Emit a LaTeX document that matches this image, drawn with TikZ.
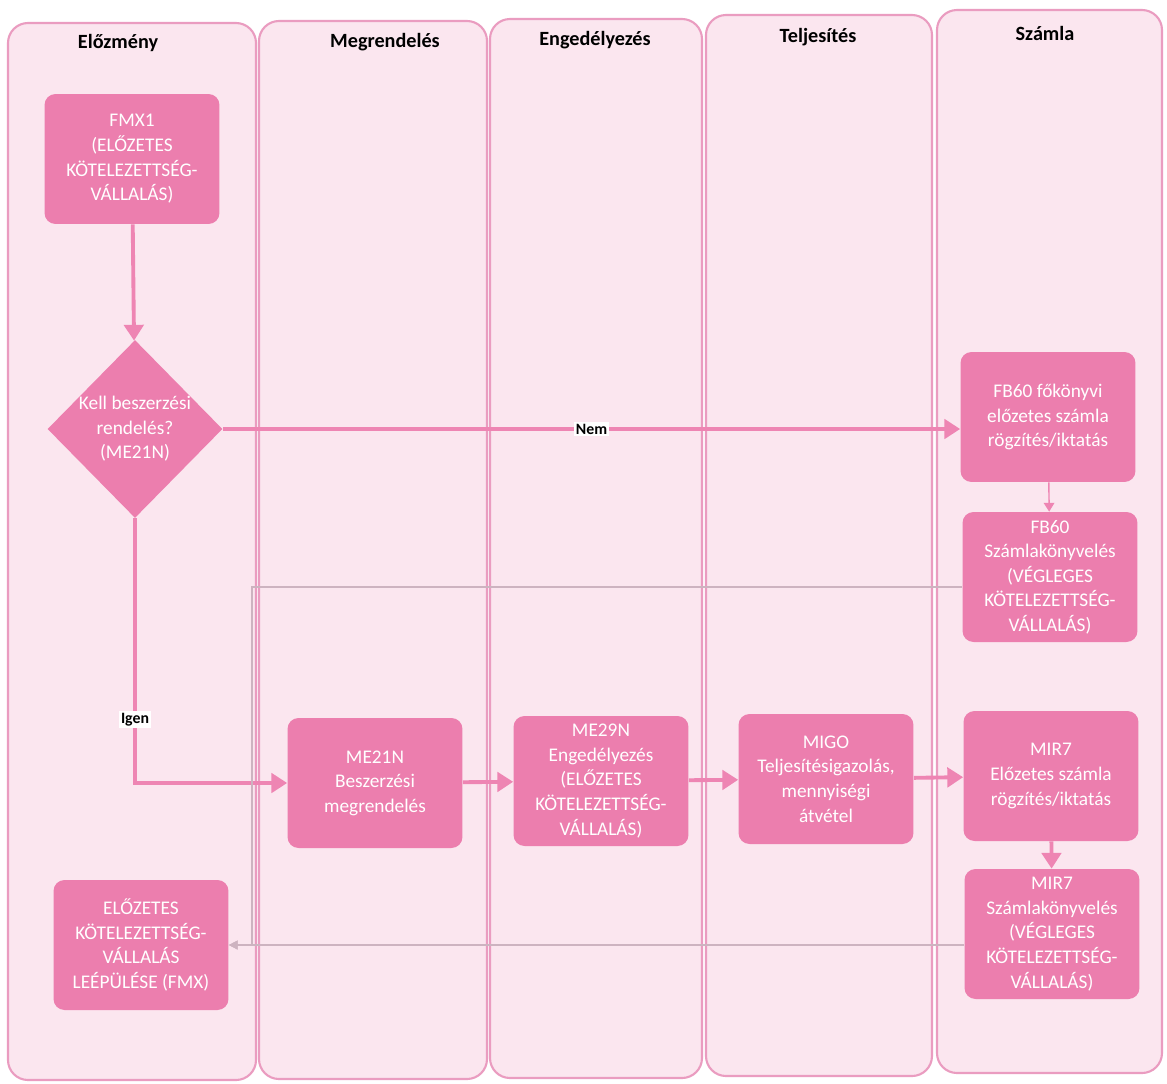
\documentclass[tikz,border=0pt]{standalone}
\usepackage{fontspec}
\setmainfont{Carlito}
\usepackage{tikz}
\usetikzlibrary{shapes.geometric, positioning, arrows.meta}
\usepackage{xcolor}
\definecolor{LanePink}{HTML}{FBE6EF}
\definecolor{LaneEdge}{HTML}{EA9CC0}
\definecolor{StepPink}{HTML}{EC7EAE}
\definecolor{FlowPink}{HTML}{EE85B3}
\definecolor{BackGray}{HTML}{CDB3C0}

\begin{document}
\begin{tikzpicture}[x=0.02cm, y=-0.02cm,
    lane/.style={fill=LanePink, draw=LaneEdge, line width=1.2pt, rounded corners=0.4cm},
    lanetitle/.style={font=\bfseries\fontsize{11.5}{13}\selectfont},
    boxtext/.style={align=center, text=white, font=\fontsize{11}{14}\selectfont},
    stepbox/.style={boxtext, fill=StepPink, rounded corners=0.22cm, minimum width=3.5cm, minimum height=2.6cm, inner sep=2pt},
    decision/.style={diamond, fill=StepPink, minimum width=3.5cm, minimum height=3.56cm, inner sep=0pt},
    flow/.style={draw=FlowPink, line width=2.2pt, -{Triangle[length=9pt,width=11pt]}},
    backflow/.style={draw=BackGray, line width=0.8pt, -{Triangle[length=5pt,width=5pt]}},
    answer/.style={fill=white, font=\bfseries\fontsize{9}{10}\selectfont, inner sep=1pt}]

    \useasboundingbox (0,0) rectangle (1167,1083);
    \fill[white] (0,0) rectangle (1167,1083);

    % swimlanes
    \foreach \n/\xa/\xb/\ya/\yb/\tx/\ty/\title in {1/8/256/23/1080/118/43/Előzmény,
        2/259/487/21/1079/385/42/Megrendelés, 3/490/702/19/1078/595/40/Engedélyezés,
        4/706/932/15/1076/818/37/Teljesítés, 5/937/1162/10/1073/1045/33/Számla} {
        \draw[lane] (\xa,\ya) rectangle (\xb,\yb);
        \node[lanetitle] (title\n) at (\tx,\ty) {\title};
    }

    % steps
    \node[stepbox] (fmx) at (132,159) {FMX1\\(ELŐZETES\\KÖTELEZETTSÉG-\\VÁLLALÁS)};
    \node[decision, label={[boxtext]center:Kell beszerzési\\rendelés?\\(ME21N)}] (ask) at (135,429) {};
    \node[stepbox] (fbpre) at (1048,417) {FB60 főkönyvi\\előzetes számla\\rögzítés/iktatás};
    \node[stepbox] (fbbook) at (1050,577) {FB60\\Számlakönyvelés\\(VÉGLEGES\\KÖTELEZETTSÉG-\\VÁLLALÁS)};
    \node[stepbox] (order) at (375,783) {ME21N\\Beszerzési\\megrendelés};
    \node[stepbox] (approve) at (601,781) {ME29N\\Engedélyezés\\(ELŐZETES\\KÖTELEZETTSÉG-\\VÁLLALÁS)};
    \node[stepbox] (migo) at (826,779) {MIGO\\Teljesítésigazolás,\\mennyiségi\\átvétel};
    \node[stepbox] (mirpre) at (1051,776) {MIR7\\Előzetes számla\\rögzítés/iktatás};
    \node[stepbox] (mirbook) at (1052,934) {MIR7\\Számlakönyvelés\\(VÉGLEGES\\KÖTELEZETTSÉG-\\VÁLLALÁS)};
    \node[stepbox] (release) at (141,945) {ELŐZETES\\KÖTELEZETTSÉG-\\VÁLLALÁS\\LEÉPÜLÉSE (FMX)};

    % connectors
    \draw[flow] (fmx) -- (ask);
    \draw[flow] (ask.east) -- node[answer] {Nem} (ask.east -| fbpre.west);
    \draw[flow] (ask) |- node[answer, pos=0.38] {Igen} (order);
    \draw[flow] (order) -- (approve);
    \draw[flow] (approve) -- (migo);
    \draw[flow] (migo) -- (mirpre);
    \draw[flow] (mirpre) -- (mirbook);
    \draw[flow, line width=0.8pt, -{Triangle[length=5pt,width=6pt]}] (fbpre) -- (fbbook);
    \draw[backflow] ([yshift=-0.2cm]fbbook.west) -- ++(-710,0) |- (release.east);
    \draw[backflow] (mirbook.west |- release.east) -- (release.east);
\end{tikzpicture}
\end{document}
